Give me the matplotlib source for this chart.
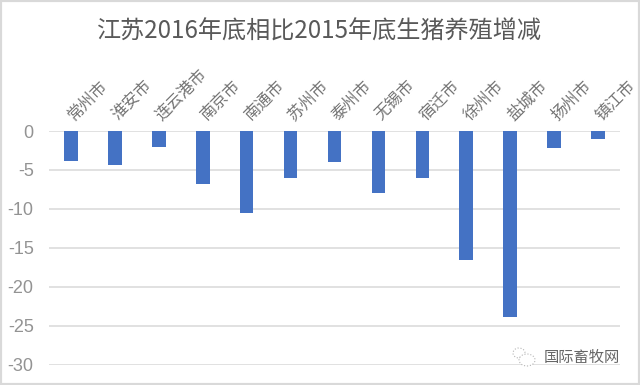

import matplotlib
matplotlib.use("Agg")
import matplotlib.pyplot as plt
from matplotlib.patches import Ellipse, Rectangle
from matplotlib.transforms import ScaledTranslation

plt.rcParams['font.family'] = ['Noto Sans CJK SC', 'DejaVu Sans']

cities = ["常州市", "淮安市", "连云港市", "南京市", "南通市", "苏州市", "泰州市",
          "无锡市", "宿迁市", "徐州市", "盐城市", "扬州市", "镇江市"]
change = [-3.8, -4.4, -2.0, -6.85, -10.5, -6.1, -3.95, -8.0, -6.0, -16.6, -23.9, -2.15, -1.05]
yticks = [0, -5, -10, -15, -20, -25, -30]

W, H = 640, 385
fig = plt.figure(figsize=(6.4, 3.85), dpi=100)
ax = fig.add_axes([49 / W, 1 - 364.5 / H, 571 / W, 233.5 / H])

ax.bar(range(len(cities)), change, width=0.31, color="#4472c4", zorder=3)
ax.set_xlim(-0.5, len(cities) - 0.5)
ax.set_ylim(-30, 0)

ax.set_yticks(yticks)
ax.set_yticklabels([str(v) for v in yticks], fontfamily="Liberation Sans", fontsize=13, color="#939393")
ax.tick_params(axis="y", length=0, pad=11)
ax.yaxis.grid(True, color="#dcdcdc", linewidth=1.2, zorder=0)
ax.set_axisbelow(True)
for s in ax.spines.values():
    s.set_visible(False)

# city names sit above the zero line
ax.xaxis.tick_top()
ax.set_xticks(range(len(cities)))
ax.set_xticklabels(cities, rotation=45, fontsize=11.7, color="#757575", ha="left", va="bottom",
                   rotation_mode="anchor")
ax.tick_params(axis="x", length=0, pad=5)
shift = ScaledTranslation(6 / 100, 0, fig.dpi_scale_trans)
for lab in ax.get_xticklabels():
    lab.set_transform(lab.get_transform() + shift)

fig.text(319.5 / W, 1 - 32 / H, "江苏2016年底相比2015年底生猪养殖增减", fontsize=17.4, color="#595959",
         ha="center", va="center")

# grey frame of the screenshot
fig.add_artist(Rectangle((0, 0), 1, 1, transform=fig.transFigure, fill=False,
                         edgecolor="#d9d9d9", linewidth=3))

# watermark
for cx, cy, rx, ry in [(519, 353, 6, 5), (527, 360, 8, 6)]:
    fig.add_artist(Ellipse((cx / W, 1 - cy / H), 2 * rx / W, 2 * ry / H, transform=fig.transFigure,
                           facecolor="white", edgecolor="#b5b5b5", linewidth=0.8, linestyle=":"))
fig.text(620 / W, 1 - 357 / H, "国际畜牧网", fontsize=11, color="#666666", ha="right", va="center")

fig.savefig("out.png", dpi=100)
